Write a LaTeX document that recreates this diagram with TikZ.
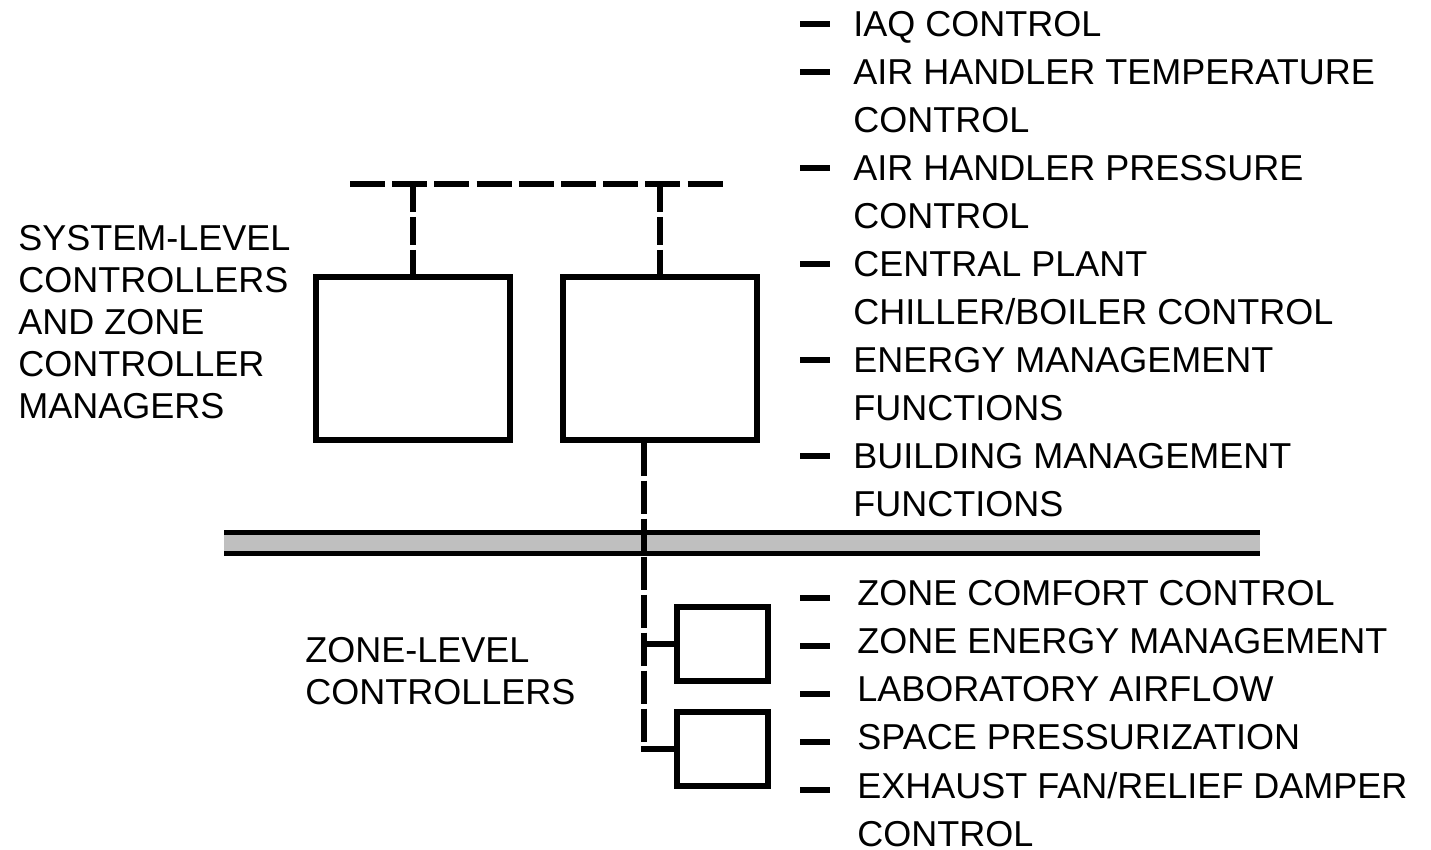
\documentclass[tikz,border=0pt]{standalone}
\usepackage{fontspec}
\setmainfont{Liberation Sans}
\begin{document}
\begin{tikzpicture}[x=0.5pt,y=-0.5pt,
  sysbox/.style={draw,line width=2.7pt,minimum width=97pt,minimum height=81.5pt,inner sep=0pt},
  zonebox/.style={draw,line width=2.7pt,minimum width=45.5pt,minimum height=37pt,inner sep=0pt},
  buslink/.style={line width=3.4pt,dash pattern=on 17.5pt off 3.6pt},
  droplink/.style={line width=3pt,dash pattern=on 14pt off 2.5pt},
  zonelink/.style={line width=2.8pt,dash pattern=on 16.5pt off 2.5pt},
  lbl/.style={inner sep=0pt,anchor=north west,align=left,font=\fontsize{18}{24}\selectfont},
  sidelbl/.style={inner sep=0pt,anchor=north west,align=left,font=\fontsize{18}{21}\selectfont},
  bullet/.style={line width=2.6pt}]
  \useasboundingbox (0,0) rectangle (1431,850);

  % system level
  \node[sysbox] (sysA) at (413,358.5) {};
  \node[sysbox] (sysB) at (660,358.5) {};
  \coordinate (busW) at (350,184);
  \coordinate (busE) at (727,184);
  \draw[buslink] (busW) -- (busE);
  \draw[droplink] (sysA.north |- busW) -- (sysA.north);
  \draw[droplink] (sysB.north |- busW) -- (sysB.north);

  % network bar
  \fill[black!25] (224,533) rectangle (1260,553);
  \draw[line width=2.6pt] (224,532.5) -- (1260,532.5);
  \draw[line width=2.6pt] (224,553.5) -- (1260,553.5);

  % zone level
  \node[zonebox] (zoneA) at (722.5,644) {};
  \node[zonebox] (zoneB) at (722.5,749) {};
  \coordinate (tap) at ([xshift=-8pt]sysB.south);
  \draw[zonelink] (tap) -- (tap |- zoneB.west);
  \draw[line width=2.8pt] (tap |- zoneA.west) -- (zoneA.west);
  \draw[line width=2.8pt] ([yshift=1.4pt]tap |- zoneB.west) |- (zoneB.west);

  % labels
  \node[sidelbl] (syslbl) at (18,225) {SYSTEM-LEVEL\\CONTROLLERS\\AND ZONE\\CONTROLLER\\MANAGERS};
  \node[sidelbl] (zonelbl) at (305,637) {ZONE-LEVEL\\CONTROLLERS};

  \foreach \y/\txt [count=\i] in {11/IAQ CONTROL,
      59/{AIR HANDLER TEMPERATURE\\CONTROL},
      155/{AIR HANDLER PRESSURE\\CONTROL},
      251/{CENTRAL PLANT\\CHILLER/BOILER CONTROL},
      347/{ENERGY MANAGEMENT\\FUNCTIONS},
      443/{BUILDING MANAGEMENT\\FUNCTIONS}}{
    \node[lbl] (sysfn\i) at (853,\y) {\txt};
    \draw[bullet] ([xshift=-26.5pt,yshift=-6.5pt]sysfn\i.north west) -- +(30,0);
  }
  \foreach \y/\txt [count=\i] in {580/ZONE COMFORT CONTROL,
      628/ZONE ENERGY MANAGEMENT,
      676/LABORATORY AIRFLOW,
      724/SPACE PRESSURIZATION,
      772/{EXHAUST FAN/RELIEF DAMPER\\CONTROL}}{
    \node[lbl] (zonefn\i) at (857,\y) {\txt};
    \draw[bullet] ([xshift=-28.5pt,yshift=-9pt]zonefn\i.north west) -- +(30,0);
  }
\end{tikzpicture}
\end{document}
